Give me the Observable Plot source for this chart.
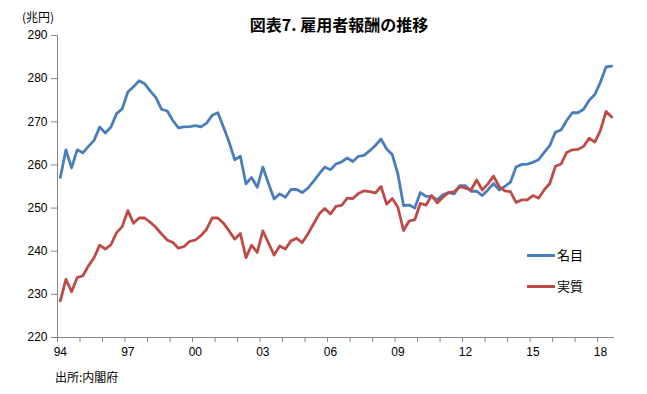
<!DOCTYPE html>
<html><head><meta charset="utf-8">
<script src="https://cdn.jsdelivr.net/npm/d3@7"></script>
<script src="https://cdn.jsdelivr.net/npm/@observablehq/plot@0.6"></script>
<style>
body{margin:0;background:#fff;}
#wrap{position:relative;width:647px;height:394px;font-family:"Noto Sans CJK JP","Liberation Sans",sans-serif;color:#000;}
.abs{position:absolute;white-space:nowrap;line-height:1;}
#chart{position:absolute;left:0;top:0;}
.sw{position:absolute;width:28px;height:3px;}
</style></head><body>
<div id="wrap">
  <div id="chart"></div>
  <div class="abs" id="title" style="left:339px;top:16px;transform:translateX(-50%);font-size:16px;font-weight:700;">図表7. 雇用者報酬の推移</div>
  <div class="abs" id="unit" style="left:22px;top:11px;font-size:12px;">(兆円)</div>
  <div class="abs" id="source" style="left:55px;top:371px;font-size:12px;">出所:内閣府</div>
  <div id="legend"></div>
</div>
<script>
// Quarterly data, 1994Q1 - 2018Q3 (兆円)
const startYear = 1994;
const seriesNames = ["名目", "実質"];
const seriesColors = ["#4a7ebb", "#be4b48"];
const nominal = [
  257.1, 263.5, 259.3, 263.5, 262.8, 264.3, 265.7, 268.8, 267.4, 268.8,
  271.9, 273.0, 276.9, 278.1, 279.5, 278.8, 277.1, 275.6, 272.9, 272.5,
  270.3, 268.6, 268.8, 268.9, 269.1, 268.8, 269.7, 271.5, 272.1, 268.8,
  265.3, 261.2, 262.0, 255.6, 257.1, 254.8, 259.5, 255.7, 252.1, 253.3,
  252.5, 254.3, 254.3, 253.6, 254.6, 256.2, 257.9, 259.5, 258.9, 260.2,
  260.7, 261.6, 260.8, 262.0, 262.2, 263.3, 264.5, 266.0, 263.7, 262.4,
  257.9, 250.6, 250.7, 250.0, 253.6, 252.7, 252.7, 251.9, 253.1, 253.6,
  253.3, 255.2, 255.2, 253.9, 253.9, 252.9, 254.2, 255.7, 254.2, 255.0,
  256.0, 259.5, 260.1, 260.2, 260.6, 261.2, 262.9, 264.5, 267.6, 268.1,
  270.3, 272.1, 272.1, 272.9, 275.0, 276.3, 279.2, 282.7, 282.9
];
const real = [
  228.5, 233.5, 230.6, 233.9, 234.3, 236.6, 238.5, 241.4, 240.5, 241.5,
  244.3, 245.7, 249.4, 246.5, 247.7, 247.7, 246.7, 245.5, 244.0, 242.6,
  242.0, 240.7, 241.1, 242.3, 242.6, 243.6, 245.1, 247.7, 247.7, 246.5,
  244.7, 242.8, 244.1, 238.5, 241.4, 239.7, 244.7, 241.9, 239.1, 241.2,
  240.5, 242.4, 243.0, 242.0, 244.0, 246.3, 248.6, 249.9, 248.6, 250.4,
  250.6, 252.3, 252.2, 253.4, 254.0, 253.8, 253.5, 255.0, 250.9, 252.2,
  250.2, 244.8, 247.0, 247.3, 251.1, 250.7, 252.9, 251.2, 252.5, 253.6,
  253.8, 255.0, 254.6, 254.2, 256.5, 254.2, 255.6, 257.4, 255.0, 254.0,
  253.8, 251.3, 251.9, 251.9, 252.9, 252.3, 254.2, 255.7, 259.7, 260.2,
  262.9, 263.5, 263.6, 264.3, 266.2, 265.3, 268.0, 272.4, 271.1
];
const yTicks = [220, 230, 240, 250, 260, 270, 280, 290];
const xTickLabels = ["94", "97", "00", "03", "06", "09", "12", "15", "18"];

const nQ = nominal.length;
const rows = [];
[nominal, real].forEach((arr, s) => arr.forEach((v, i) => rows.push({
  idx: i + 0.5,
  period: `${startYear + Math.floor(i / 4)}Q${(i % 4) + 1}`,
  value: v,
  series: seriesNames[s]
})));

const labelPos = xTickLabels.map((_, k) => k * 12 + 0.5);
const yearTicks = d3.range(0, nQ + 1, 4);
const axisGray = "#868686";

const chart = Plot.plot({
  width: 647,
  height: 394,
  marginLeft: 57,
  marginRight: 33,
  marginTop: 35,
  marginBottom: 57,
  style: {fontFamily: "'Liberation Sans', 'Noto Sans CJK JP', sans-serif", fontSize: "12px", background: "#fff", color: "#000"},
  x: {type: "linear", domain: [0, nQ], axis: null},
  y: {domain: [220, 290], axis: null},
  color: {domain: seriesNames, range: seriesColors},
  marks: [
    Plot.axisY({ticks: yTicks, tickSize: 6, tickPadding: 4, stroke: axisGray, fill: "#000", label: null}),
    Plot.axisX({ticks: yearTicks, tickSize: 5, tickFormat: () => "", stroke: axisGray, label: null}),
    Plot.axisX({ticks: labelPos, tickSize: 0, tickPadding: 10, tickFormat: (d) => xTickLabels[Math.round((d - 0.5) / 12)], fill: "#000", label: null}),
    Plot.ruleX([0], {stroke: axisGray, strokeWidth: 1}),
    Plot.ruleY([220], {stroke: axisGray, strokeWidth: 1}),
    Plot.line(rows, {x: "idx", y: "value", z: "series", stroke: "series", strokeWidth: 2.8, strokeLinejoin: "round", strokeLinecap: "round"})
  ]
});
document.getElementById("chart").appendChild(chart);

// Legend
const legend = document.getElementById("legend");
const legendTops = [255, 286];
seriesNames.forEach((name, i) => {
  const sw = document.createElement("div");
  sw.className = "sw";
  sw.style.left = "527px";
  sw.style.top = (legendTops[i] - 1) + "px";
  sw.style.background = seriesColors[i];
  legend.appendChild(sw);
  const t = document.createElement("div");
  t.className = "abs";
  t.style.left = "557px";
  t.style.top = (legendTops[i] - 7) + "px";
  t.style.fontSize = "13px";
  t.textContent = name;
  legend.appendChild(t);
});
</script>
</body></html>
